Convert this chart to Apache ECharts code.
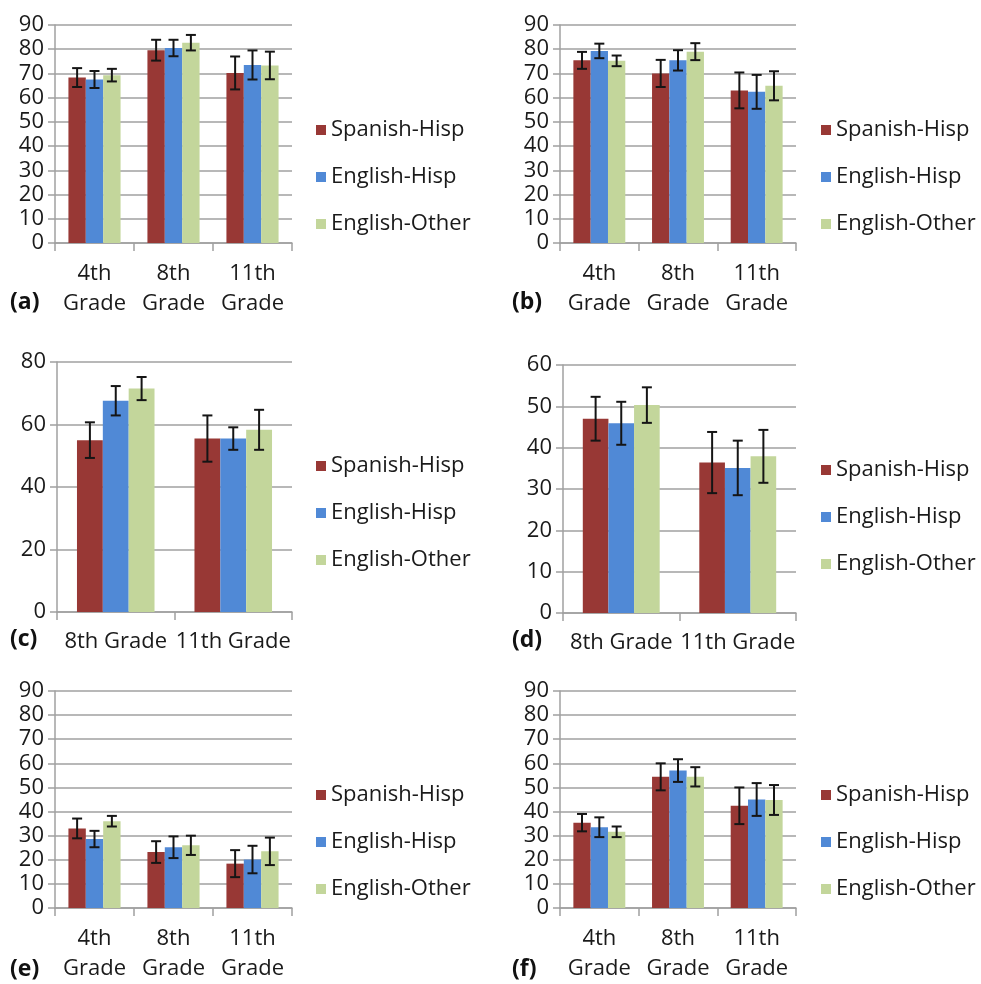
<!DOCTYPE html>
<html>
<head>
<meta charset="utf-8">
<script src="https://cdn.jsdelivr.net/npm/echarts@6/dist/echarts.min.js"></script>
<style>
html,body{margin:0;padding:0;background:#fff;}
#chart{width:981px;height:984px;}
</style>
</head>
<body>
<div id="chart"></div>
<script>
// ---------- data ----------
const seriesNames = ['Spanish-Hisp', 'English-Hisp', 'English-Other'];
const gradesThree = ['4th\nGrade', '8th\nGrade', '11th\nGrade'];
const gradesTwo = ['8th Grade', '11th Grade'];
const panelLabels = ['(a)', '(b)', '(c)', '(d)', '(e)', '(f)'];

// panel (a)
const a_spanishHisp = [68.3, 79.6, 70.2];
const a_englishHisp = [67.5, 80.5, 73.5];
const a_englishOther = [69.3, 82.7, 73.3];
const a_errSpanishHisp = [3.9, 4.3, 6.8];
const a_errEnglishHisp = [3.5, 3.4, 6.0];
const a_errEnglishOther = [2.6, 3.2, 5.7];

// panel (b)
const b_spanishHisp = [75.4, 70.0, 63.0];
const b_englishHisp = [79.3, 75.4, 62.4];
const b_englishOther = [75.2, 79.0, 64.9];
const b_errSpanishHisp = [3.5, 5.6, 7.4];
const b_errEnglishHisp = [3.0, 4.2, 7.0];
const b_errEnglishOther = [2.2, 3.5, 6.0];

// panel (c)
const c_spanishHisp = [55.0, 55.5];
const c_englishHisp = [67.6, 55.5];
const c_englishOther = [71.5, 58.3];
const c_errSpanishHisp = [5.7, 7.4];
const c_errEnglishHisp = [4.7, 3.6];
const c_errEnglishOther = [3.7, 6.4];

// panel (d)
const d_spanishHisp = [47.0, 36.4];
const d_englishHisp = [45.9, 35.1];
const d_englishOther = [50.3, 37.9];
const d_errSpanishHisp = [5.3, 7.4];
const d_errEnglishHisp = [5.2, 6.6];
const d_errEnglishOther = [4.3, 6.4];

// panel (e)
const e_spanishHisp = [33.0, 23.2, 18.4];
const e_englishHisp = [28.6, 25.2, 20.1];
const e_englishOther = [36.0, 26.0, 23.5];
const e_errSpanishHisp = [4.1, 4.5, 5.6];
const e_errEnglishHisp = [3.4, 4.5, 5.7];
const e_errEnglishOther = [2.2, 4.0, 5.7];

// panel (f)
const f_spanishHisp = [35.4, 54.4, 42.4];
const f_englishHisp = [33.5, 57.0, 45.0];
const f_englishOther = [31.6, 54.4, 44.8];
const f_errSpanishHisp = [3.6, 5.6, 7.6];
const f_errEnglishHisp = [4.1, 4.7, 6.8];
const f_errEnglishOther = [2.2, 4.0, 6.2];

// y axis ranges: [max, interval]
const yMaxes = [90, 90, 80, 60, 90, 90];
const yIntervals = [10, 10, 20, 10, 10, 10];

// ---------- assembly ----------
const panels = [
  {cats: gradesThree, vals: [a_spanishHisp, a_englishHisp, a_englishOther], errs: [a_errSpanishHisp, a_errEnglishHisp, a_errEnglishOther]},
  {cats: gradesThree, vals: [b_spanishHisp, b_englishHisp, b_englishOther], errs: [b_errSpanishHisp, b_errEnglishHisp, b_errEnglishOther]},
  {cats: gradesTwo,   vals: [c_spanishHisp, c_englishHisp, c_englishOther], errs: [c_errSpanishHisp, c_errEnglishHisp, c_errEnglishOther]},
  {cats: gradesTwo,   vals: [d_spanishHisp, d_englishHisp, d_englishOther], errs: [d_errSpanishHisp, d_errEnglishHisp, d_errEnglishOther]},
  {cats: gradesThree, vals: [e_spanishHisp, e_englishHisp, e_englishOther], errs: [e_errSpanishHisp, e_errEnglishHisp, e_errEnglishOther]},
  {cats: gradesThree, vals: [f_spanishHisp, f_englishHisp, f_englishOther], errs: [f_errSpanishHisp, f_errEnglishHisp, f_errEnglishOther]}
];

const colors = ['#983835', '#5089D6', '#C3D69B'];
const FONT = 'Open Sans';
const TEXT_COLOR = '#1a1a1a';
const GRID_COLOR = '#a0a0a0';
const CAT_GAP = 0.34;

const grids = [
  {left: 55, top: 25, width: 237, height: 218},
  {left: 560, top: 25, width: 236, height: 218},
  {left: 57, top: 362, width: 235, height: 250},
  {left: 563, top: 365, width: 233, height: 248},
  {left: 55, top: 691, width: 237, height: 217},
  {left: 560, top: 691, width: 236, height: 217}
];
const legendPos = [
  {left: 316, top: 118}, {left: 821, top: 118},
  {left: 316, top: 454}, {left: 821, top: 458},
  {left: 316, top: 783}, {left: 821, top: 783}
];
const labelPos = [
  {x: 10, y: 305}, {x: 512, y: 305},
  {x: 10, y: 642}, {x: 512, y: 643},
  {x: 10, y: 972}, {x: 512, y: 972}
];

const xAxes = [], yAxes = [], series = [], legends = [], graphics = [];

panels.forEach((p, pi) => {
  const twoLine = p.cats === gradesThree;
  xAxes.push({
    type: 'category', gridIndex: pi, data: p.cats,
    axisLine: {lineStyle: {color: GRID_COLOR, width: 1.5}},
    axisTick: {show: true, length: 8, lineStyle: {color: GRID_COLOR, width: 1.5}},
    axisLabel: {
      interval: 0, color: TEXT_COLOR, fontFamily: FONT, fontSize: 22,
      margin: twoLine ? 16 : 19, lineHeight: twoLine ? 30 : 22
    }
  });
  yAxes.push({
    type: 'value', gridIndex: pi, min: 0, max: yMaxes[pi], interval: yIntervals[pi],
    axisLine: {show: true, lineStyle: {color: GRID_COLOR, width: 1.5}},
    axisTick: {show: true, length: 7, lineStyle: {color: GRID_COLOR, width: 1.5}},
    splitLine: {show: true, lineStyle: {color: GRID_COLOR, width: 1.5}},
    axisLabel: {color: TEXT_COLOR, fontFamily: FONT, fontSize: 22, margin: 11}
  });
  p.vals.forEach((vals, si) => {
    series.push({
      type: 'bar', name: seriesNames[si], xAxisIndex: pi, yAxisIndex: pi,
      data: vals, barGap: '0%', barCategoryGap: (CAT_GAP * 100) + '%',
      itemStyle: {color: colors[si]}, z: 2, silent: true
    });
  });
  const errData = [];
  p.vals.forEach((vals, si) => {
    vals.forEach((v, ci) => errData.push([ci, v, p.errs[si][ci], si]));
  });
  series.push({
    type: 'custom', xAxisIndex: pi, yAxisIndex: pi, z: 5, silent: true,
    encode: {x: 0, y: 1},
    data: errData,
    renderItem: function (params, api) {
      const ci = api.value(0), v = api.value(1), e = api.value(2), si = api.value(3);
      const band = api.size([1, 0])[0];
      const group = band * (1 - CAT_GAP);
      const bw = group / 3;
      const cx = api.coord([ci, v])[0] - group / 2 + bw * (si + 0.5);
      const yt = api.coord([ci, v + e])[1];
      const yb = api.coord([ci, v - e])[1];
      const hw = 5;
      const st = {stroke: '#151515', lineWidth: 2};
      return {
        type: 'group',
        children: [
          {type: 'line', shape: {x1: cx, y1: yt, x2: cx, y2: yb}, style: st},
          {type: 'line', shape: {x1: cx - hw, y1: yt, x2: cx + hw, y2: yt}, style: st},
          {type: 'line', shape: {x1: cx - hw, y1: yb, x2: cx + hw, y2: yb}, style: st}
        ]
      };
    }
  });
  legends.push({
    data: seriesNames, orient: 'vertical', left: legendPos[pi].left, top: legendPos[pi].top,
    icon: 'rect', itemWidth: 10, itemHeight: 10, itemGap: 23, padding: 0,
    selectedMode: false,
    textStyle: {fontFamily: FONT, fontSize: 22, color: TEXT_COLOR, lineHeight: 24}
  });
  graphics.push({
    type: 'text', left: labelPos[pi].x, top: labelPos[pi].y - 14,
    style: {text: panelLabels[pi], font: 'bold 23px "' + FONT + '"', fill: '#111'}
  });
});

const chart = echarts.init(document.getElementById('chart'), null, {renderer: 'canvas'});
chart.setOption({
  animation: false,
  color: colors,
  grid: grids,
  xAxis: xAxes,
  yAxis: yAxes,
  legend: legends,
  graphic: graphics,
  series: series
});
</script>
</body>
</html>
